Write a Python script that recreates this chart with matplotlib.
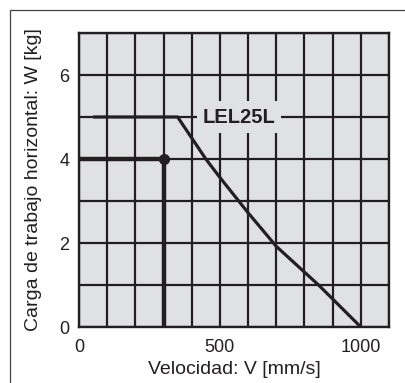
import matplotlib
matplotlib.use("Agg")
import matplotlib.pyplot as plt
from matplotlib.patches import Rectangle

plt.rcParams['font.family'] = ['Liberation Sans', 'DejaVu Sans']

# Data
curve_v = [50, 350, 450, 500, 600, 700, 850, 1000]
curve_w = [5, 5, 4, 3.56, 2.72, 1.92, 1, 0]
point_v = [0, 300, 300]
point_w = [4, 4, 0]
x_major = [0, 500, 1000]
y_major = [0, 2, 4, 6]
label_text = "LEL25L"

ink = '#231f20'
bg = '#e0e1e3'

fig = plt.figure(figsize=(4.06, 3.83), dpi=100)
fig.patches.append(Rectangle((10/406, 1 - 10/383), 1.0, -1.0, transform=fig.transFigure,
                             fill=False, edgecolor='#444444', linewidth=0.9))
ax = fig.add_axes([79/406, 1 - 327/383, (389 - 79)/406, (327 - 33)/383])
ax.set_facecolor(bg)
ax.set_xlim(0, 1100)
ax.set_ylim(0, 7)
ax.set_xticks(x_major)
ax.set_xticks(range(0, 1101, 100), minor=True)
ax.set_yticks(y_major)
ax.set_yticks(range(0, 8), minor=True)
ax.grid(True, which='both', color=ink, linewidth=1.6, zorder=1)
ax.set_axisbelow(True)
for s in ax.spines.values():
    s.set_color(ink)
    s.set_linewidth(1.7)
ax.tick_params(which='both', length=0)
ax.tick_params(axis='x', pad=9, labelsize=13, colors=ink)
ax.tick_params(axis='y', pad=7, labelsize=13, colors=ink)

ax.plot(curve_v, curve_w, color=ink, linewidth=2.3, solid_capstyle='butt', zorder=3)
ax.plot(point_v, point_w, color=ink, linewidth=3.2, solid_capstyle='butt', zorder=3)
ax.plot([point_v[1]], [point_w[1]], 'o', color=ink, markersize=7, zorder=4)

ax.text(568, 5, label_text, fontsize=14.5, fontweight='bold', color=ink,
        ha='center', va='center', zorder=5,
        bbox=dict(boxstyle='square,pad=0.3', facecolor=bg, edgecolor='none'))

ax.set_xlabel("Velocidad: V [mm/s]", fontsize=14, color=ink, labelpad=3)
ax.set_ylabel("Carga de trabajo horizontal: W [kg]", fontsize=14, color=ink, labelpad=12)

fig.savefig("out.png", dpi=100)
